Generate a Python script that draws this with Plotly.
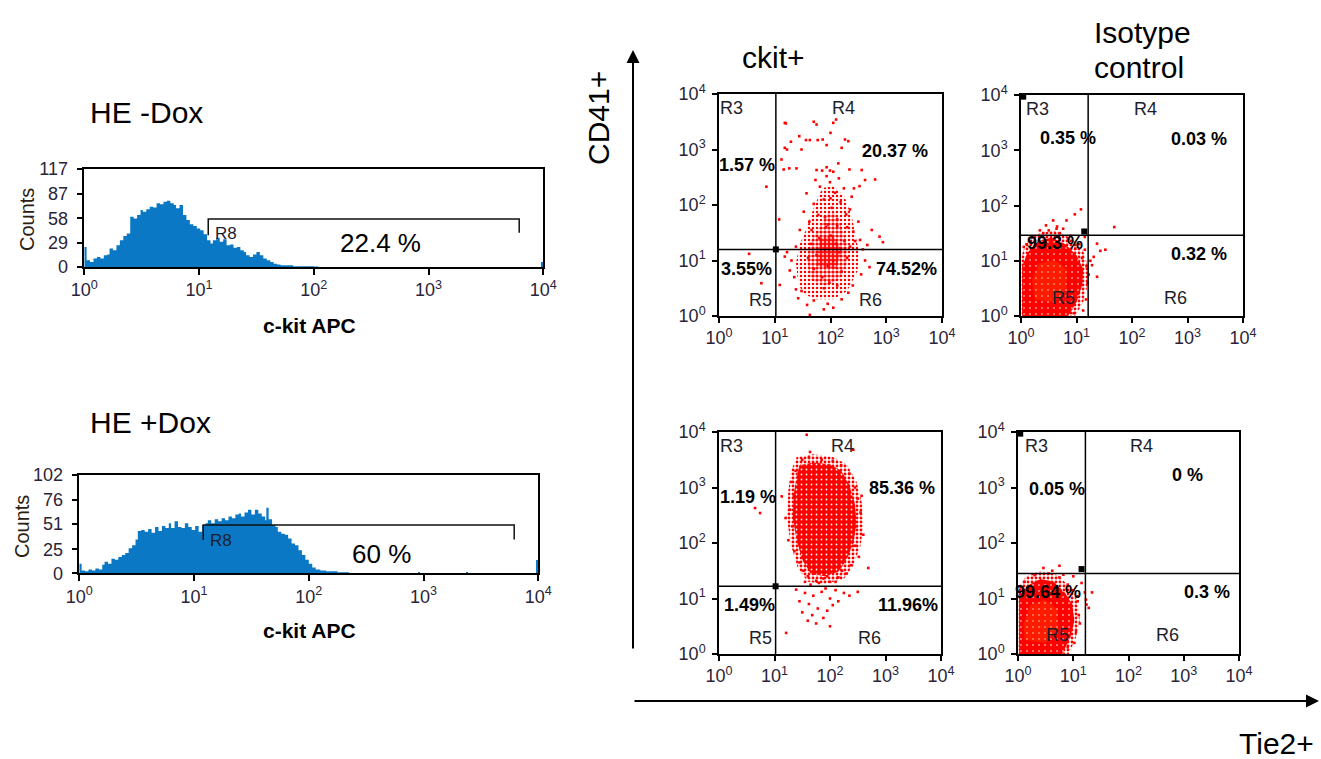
import plotly.graph_objects as go

W, H = 1321, 759
FONT = "Liberation Sans, Arial, sans-serif"

# ---------------- histogram data (x in log10 decades of c-kit APC, y = counts) ----------------
h1_x = [0.00,0.02,0.05,0.08,0.11,0.14,0.17,0.20,0.22,0.25,0.28,0.31,0.34,0.37,0.40,0.43,0.46,0.49,0.51,0.54,
        0.57,0.60,0.63,0.66,0.69,0.72,0.75,0.78,0.80,0.83,0.86,0.89,0.92,0.95,0.98,1.01,1.04,1.07,1.10,1.12,
        1.15,1.18,1.21,1.24,1.27,1.30,1.33,1.36,1.39,1.41,1.44,1.47,1.50,1.53,1.56,1.59,1.62,1.65,1.68,1.71,
        1.76,1.82,1.88,1.94,2.00,2.04]
h1_y = [24,8,6,10,12,10,14,15,22,20,26,32,37,40,60,58,62,68,66,69,
        72,71,76,75,78,79,76,74,70,74,62,56,51,49,46,44,39,32,28,32,
        35,30,33,26,27,23,24,20,18,14,12,15,18,14,10,8,6,4,3,2,
        2,1,1,1,0.5,0]
h1_extra_x = [3.99]
h1_extra_y = [6]

h2_x = [0.00,0.02,0.05,0.08,0.11,0.14,0.17,0.20,0.22,0.25,0.28,0.31,0.34,0.37,0.40,0.43,0.46,0.49,0.51,0.54,
        0.57,0.60,0.63,0.66,0.69,0.72,0.75,0.78,0.80,0.83,0.86,0.89,0.92,0.95,0.98,1.01,1.04,1.07,1.10,1.12,
        1.15,1.18,1.21,1.24,1.27,1.30,1.33,1.36,1.39,1.41,1.44,1.47,1.50,1.53,1.56,1.59,1.62,1.63,1.65,1.68,
        1.71,1.73,1.76,1.79,1.82,1.85,1.88,1.91,1.94,1.97,2.00,2.03,2.06,2.10,2.15,2.20,2.25,2.30,2.35]
h2_y = [10,3,2,4,3,5,4,9,12,10,15,14,17,19,21,26,29,35,44,45,
        43,46,42,48,44,49,47,52,47,54,48,47,52,48,45,49,43,50,52,55,
        52,56,54,57,55,59,57,61,62,59,63,66,61,66,62,59,55,68,56,50,
        48,43,41,40,36,31,29,24,19,14,10,6,4,3,2,2,1,1,0]
h2_extra_x = [2.96, 3.38, 3.99]
h2_extra_y = [1, 1, 14]

# R8 gate brackets (decades, counts)
h1_gate_x = [1.08, 1.08, 3.79, 3.79]
h1_gate_y = [38, 57.3, 57.3, 41]
h2_gate_x = [1.08, 1.08, 3.79, 3.79]
h2_gate_y = [34.5, 50.1, 50.1, 35]

# ---------------- dot plots (log10 Tie2, log10 CD41) ----------------
tl_events = [
    (1.18,3.48),(1.20,3.47),(1.70,3.50),(1.75,3.45),(2.10,3.54),(2.05,3.48),(2.00,3.30),(1.44,3.24),(1.56,3.17),
    (1.63,3.17),(1.77,3.17),(1.86,3.18),(1.29,3.14),(1.93,3.08),(2.26,3.18),(2.32,3.15),(2.20,3.03),(1.18,3.03),
    (1.22,3.00),(1.48,3.00),(2.60,3.05),(1.12,2.82),(1.16,2.64),(1.26,2.66),(1.39,2.66),(1.75,2.63),(1.93,2.68),
    (1.99,2.62),(2.34,2.64),(2.56,2.63),(2.80,2.46),(2.62,2.45),(2.14,2.75),(0.85,2.33),(2.52,2.34),(2.42,2.30),
    (1.08,1.74),(2.74,1.55),(2.88,1.43),(2.94,1.33),(2.53,1.37),(0.54,1.12),(0.76,0.59),(1.09,0.56),(1.63,0.02),
    (1.88,0.12),(1.38,0.48),(1.18,1.07),
    (1.62,1.70),(1.78,1.82),(1.95,1.65),(2.12,1.74),(2.30,1.60),(2.41,1.52),(1.70,2.02),(1.88,2.10),(2.02,1.95),
    (2.18,2.05),(2.35,1.92),(1.57,2.21),(1.81,2.33),(1.99,2.41),(2.08,2.22),(2.24,2.30),(1.93,2.52),(2.15,2.48),
    (1.73,2.45),(2.05,2.60),(1.85,2.62),(2.28,1.83),(1.66,1.55),(2.50,1.70),(2.38,2.15),(1.52,1.88),(2.44,1.35),
    (2.58,1.20),(2.62,1.00),(2.55,0.75),(2.40,0.55),(2.20,0.30),(1.95,0.22),(1.70,0.28),(1.48,0.45),(1.35,0.70),
    (1.30,1.00),(1.38,1.25),(1.45,1.55),(1.27,0.82),(1.22,1.15),(2.70,0.88),(2.66,1.28),(1.58,0.20),(2.05,0.15),
    (2.32,0.42),(1.42,0.32),(2.12,1.62),(1.90,1.78),(2.00,2.12),
    (1.75,1.10),(1.90,1.20),(2.05,1.00),(2.10,1.30),(1.95,0.90),(1.85,0.70),(2.20,0.80),(2.15,1.15),(1.70,0.85),
    (2.30,1.05),(1.80,1.40),(2.00,1.45),(1.60,1.05),(2.25,1.35),(1.98,0.60),(2.12,0.55),(1.88,0.50),(1.65,1.30),
    (2.35,1.25),(1.92,1.60)]
tl_cloud = [
    [(1.50,0.40),(1.75,0.30),(2.05,0.30),(2.30,0.45),(2.48,0.80),(2.52,1.10),(2.45,1.45),(2.38,1.80),(2.25,2.15),
     (2.05,2.35),(1.85,2.30),(1.70,1.95),(1.58,1.60),(1.45,1.30),(1.38,0.95),(1.42,0.62)],
    [(1.65,0.65),(1.90,0.55),(2.15,0.65),(2.30,0.95),(2.30,1.30),(2.20,1.60),(2.10,1.85),(1.95,1.85),(1.80,1.60),
     (1.65,1.35),(1.58,1.00)],
    [(1.75,0.90),(2.10,0.85),(2.20,1.20),(2.05,1.45),(1.80,1.40)]]

bl_events = [
    (1.58,3.95),(1.64,3.64),(2.42,3.68),(1.50,3.50),(1.62,3.55),(1.85,3.50),(2.05,3.48),(2.20,3.40),(1.38,3.30),
    (1.30,3.10),(2.35,3.25),(2.45,3.00),(2.50,2.80),(2.57,2.85),(2.55,2.55),(2.48,2.30),(2.60,2.15),(2.45,1.95),
    (2.52,1.75),(2.69,1.55),(2.38,1.60),(2.30,1.45),(1.35,2.85),(1.28,2.60),(1.32,2.30),(1.25,2.05),(1.36,1.85),
    (1.45,1.65),(1.13,2.84),(0.65,2.63),(0.74,2.54),(1.20,2.45),(1.52,1.50),(1.60,1.40),(2.15,1.38),(2.00,1.30),
    (1.75,1.32),(1.39,1.16),(1.55,1.10),(1.70,1.05),(1.85,1.12),(2.00,1.00),(2.10,1.15),(1.62,0.90),(1.78,0.82),
    (1.95,0.78),(2.05,0.88),(1.68,0.70),(1.88,0.65),(2.00,0.50),(1.75,0.55),(1.60,0.60),(2.15,0.95),(2.25,1.10),
    (1.45,0.95),(2.35,1.05),(2.50,1.12),(1.21,0.38),(1.92,1.18),(1.50,0.75),(1.65,1.25),(1.80,1.28),(1.95,1.40),
    (2.10,1.30),(1.72,1.45),(1.88,1.36),(2.22,1.50),(1.55,1.30)]
bl_halo = [(1.40,3.55),(1.70,3.60),(2.05,3.55),(2.30,3.42),(2.48,3.10),(2.58,2.70),(2.60,2.30),(2.55,1.95),
           (2.42,1.60),(2.25,1.35),(1.90,1.26),(1.60,1.30),(1.42,1.55),(1.30,1.95),(1.22,2.45),(1.25,2.95),(1.30,3.30)]
bl_core = [(1.45,3.40),(1.70,3.45),(2.00,3.42),(2.20,3.30),(2.35,3.05),(2.45,2.70),(2.48,2.35),(2.42,2.00),
           (2.30,1.70),(2.15,1.48),(1.90,1.40),(1.65,1.45),(1.50,1.70),(1.40,2.05),(1.33,2.45),(1.35,2.90),(1.40,3.20)]

tr_events = [
    (0.58,1.73),(0.76,1.58),(0.97,1.84),(1.08,1.93),(1.68,1.61),(1.37,1.31),(1.43,1.18),(1.52,1.20),(1.31,1.07),
    (1.37,0.71),(1.28,0.92),(0.82,1.73),(0.64,1.58),(0.34,1.55),(0.45,1.64),(1.15,1.43),(1.20,0.60),(1.18,0.90),
    (1.25,1.00),(1.15,1.20),(1.05,1.30),(0.90,1.45),(0.70,1.50),(0.40,1.50),(0.20,1.42),(0.10,1.30),(1.17,0.30),
    (1.12,0.10),(0.95,0.05),(1.22,0.75),(0.05,1.25),(0.65,1.62),(0.50,1.55),(0.85,1.40),(1.10,1.05),(0.98,1.22)]
tr_halo = [(0.00,0.00),(0.98,0.00),(1.12,0.25),(1.20,0.55),(1.22,0.85),(1.12,1.18),(0.92,1.40),(0.60,1.55),
           (0.28,1.48),(0.08,1.30),(0.00,1.05)]
tr_core = [(0.02,0.00),(0.85,0.00),(1.00,0.25),(1.10,0.55),(1.12,0.85),(1.00,1.10),(0.80,1.30),(0.55,1.42),
           (0.30,1.35),(0.12,1.15),(0.02,0.90)]
tr_dense = [(0.25,0.30),(0.60,0.25),(0.82,0.50),(0.82,0.85),(0.60,1.02),(0.32,0.95),(0.20,0.65)]

br_events = [
    (0.46,1.55),(0.75,1.59),(0.82,1.43),(1.21,1.11),(1.23,0.98),(1.24,0.89),(1.28,0.83),(1.34,1.11),(1.08,1.04),
    (1.15,1.28),(1.00,1.40),(1.05,0.40),(1.10,0.70),(1.00,1.15),(0.90,1.25),(0.75,1.38),(0.55,1.45),(0.30,1.42),
    (0.12,1.30),(0.05,1.20),(0.90,0.12),(1.08,0.95),(0.62,1.50),(1.02,0.20),(1.12,0.55)]
br_halo = [(0.00,0.00),(0.92,0.00),(1.05,0.30),(1.12,0.60),(1.08,0.95),(0.95,1.20),(0.72,1.42),(0.42,1.50),
           (0.15,1.40),(0.00,1.20)]
br_core = [(0.02,0.00),(0.80,0.00),(0.95,0.30),(1.02,0.60),(0.98,0.90),(0.85,1.10),(0.65,1.30),(0.40,1.35),
           (0.20,1.25),(0.02,1.05)]
br_dense = [(0.12,0.25),(0.50,0.20),(0.72,0.45),(0.72,0.80),(0.48,0.98),(0.22,0.88),(0.10,0.55)]

# quadrant gates: (vertical x, horizontal y) and handle positions
gates = {"tl": (1.02, 1.20), "tr": (1.21, 1.46), "bl": (1.02, 1.22), "br": (1.22, 1.45)}
handles = {"tl": [(1.02, 1.20)], "tr": [(1.14, 1.53), (0.04, 3.97)],
           "bl": [(1.02, 1.22)], "br": [(1.15, 1.53), (0.04, 3.97)]}

region_labels = {
    "tl": [("R3", 0.23, 3.74), ("R4", 2.23, 3.74), ("R5", 0.74, 0.29), ("R6", 2.72, 0.29)],
    "tr": [("R3", 0.30, 3.74), ("R4", 2.24, 3.74), ("R5", 0.76, 0.32), ("R6", 2.78, 0.32)],
    "bl": [("R3", 0.23, 3.75), ("R4", 2.23, 3.75), ("R5", 0.74, 0.29), ("R6", 2.72, 0.29)],
    "br": [("R3", 0.34, 3.75), ("R4", 2.24, 3.75), ("R5", 0.72, 0.34), ("R6", 2.70, 0.34)],
}
pct_labels = {
    "tl": [("1.57 %", 0.51, 2.72), ("20.37 %", 3.16, 2.97), ("3.55%", 0.50, 0.84), ("74.52%", 3.37, 0.84)],
    "tr": [("0.35 %", 0.85, 3.22), ("0.03 %", 3.20, 3.20), ("99.3 %", 0.61, 1.32), ("0.32 %", 3.20, 1.12)],
    "bl": [("1.19 %", 0.53, 2.83), ("85.36 %", 3.29, 2.99), ("1.49%", 0.55, 0.89), ("11.96%", 3.40, 0.89)],
    "br": [("0.05 %", 0.70, 2.98), ("0 %", 3.06, 3.22), ("99.64 %", 0.55, 1.12), ("0.3 %", 3.42, 1.12)],
}

decade_text = ["10<sup>0</sup>", "10<sup>1</sup>", "10<sup>2</sup>", "10<sup>3</sup>", "10<sup>4</sup>"]

# ---------------- layout boxes (pixels) ----------------
def xdom(a, b):
    return [a / W, b / W]

def ydom(top, bottom):
    return [1 - bottom / H, 1 - top / H]

fig = go.Figure()
layout = dict(template="none", width=W, height=H, margin=dict(l=0, r=0, t=0, b=0, pad=0),
              autosize=False, paper_bgcolor="white",
              plot_bgcolor="white", showlegend=False, font=dict(family=FONT, color="black"))
annotations = []
shapes = []

BLUE = "#0a78c4"
TICKC = "#2b2438"

def axis_common(dom, rng, tickvals, ticktext, size, ticklen, anchor, standoff=0):
    return dict(domain=dom, range=rng, tickvals=tickvals, ticktext=ticktext, ticks="outside",
                ticklen=ticklen, tickwidth=1.5, tickcolor="black", showline=True, mirror=True,
                linecolor="black", linewidth=1.5, showgrid=False, zeroline=False, fixedrange=True,
                automargin=False, ticklabelstandoff=standoff,
                tickfont=dict(family=FONT, size=size, color=TICKC), anchor=anchor)

def paper_text(text, px, py, size, angle=0, xanchor="center", color="black"):
    return dict(x=px / W, y=1 - py / H, xref="paper", yref="paper", text=text, showarrow=False,
                xanchor=xanchor, yanchor="middle", textangle=angle, font=dict(size=size, color=color))

# ---------------- histograms ----------------
hists = [
    dict(ax="", x=h1_x, y=h1_y, ex=h1_extra_x, ey=h1_extra_y, gx=h1_gate_x, gy=h1_gate_y, ymax=117,
         yt=[0, 29, 58, 87, 117], box=(84.3, 543.3, 169, 267), pct=("22.4 %", 2.58, 29), r8=(1.12, 40),
         title=("HE -Dox", 88, 113), counts=(27, 220), xlabel=(309, 325)),
    dict(ax="2", x=h2_x, y=h2_y, ex=h2_extra_x, ey=h2_extra_y, gx=h2_gate_x, gy=h2_gate_y, ymax=102,
         yt=[0, 25, 51, 76, 102], box=(79.3, 538.3, 475, 573.3), pct=("60 %", 2.63, 20), r8=(1.12, 34.5),
         title=("HE +Dox", 88, 422), counts=(22, 527), xlabel=(309, 630)),
]
for h in hists:
    a = h["ax"]
    xr, yr = "x" + a, "y" + a
    fig.add_trace(go.Scatter(x=h["x"], y=h["y"], mode="lines", line=dict(width=0, shape="hv", color=BLUE),
                             fill="tozeroy", fillcolor=BLUE, xaxis=xr, yaxis=yr, hoverinfo="skip"))
    fig.add_trace(go.Bar(x=h["ex"], y=h["ey"], width=0.02, offset=-0.01, marker=dict(color=BLUE, line=dict(width=0)),
                         xaxis=xr, yaxis=yr, hoverinfo="skip"))
    fig.add_trace(go.Scatter(x=h["gx"], y=h["gy"], mode="lines", line=dict(color="#111", width=1.5),
                             xaxis=xr, yaxis=yr, hoverinfo="skip"))
    x0, x1, t, b = h["box"]
    layout["xaxis" + a] = axis_common(xdom(x0, x1), [0, 4], [0, 1, 2, 3, 4], decade_text, 18, 6, yr)
    layout["yaxis" + a] = axis_common(ydom(t, b), [0, h["ymax"]], h["yt"], [str(v) for v in h["yt"]], 18, 6, xr,
                                      standoff=5)
    annotations.append(dict(x=h["pct"][1], y=h["pct"][2], xref=xr, yref=yr, text=h["pct"][0], showarrow=False,
                            xanchor="center", yanchor="middle", font=dict(size=26, color="black")))
    annotations.append(dict(x=h["r8"][0], y=h["r8"][1], xref=xr, yref=yr, text="R8", showarrow=False,
                            xanchor="left", yanchor="middle", font=dict(size=17, color="#1a2030")))
    tt, tx, ty = h["title"]
    annotations.append(paper_text(tt, tx, ty, 30, xanchor="left"))
    annotations.append(paper_text("Counts", h["counts"][0], h["counts"][1], 20, angle=-90, color="#2a2010"))
    annotations.append(paper_text("<b>c-kit APC</b>", h["xlabel"][0], h["xlabel"][1], 21))

# ---------------- dot plots ----------------
panels = [
    ("tl", "3", (719, 942, 94, 316)),
    ("tr", "4", (1021, 1243, 95, 316)),
    ("bl", "5", (719, 941, 432, 654)),
    ("br", "6", (1018, 1239, 432, 654)),
]
RED = "#ff0000"

def poly_trace(pts, xr, yr, **kw):
    xs = [p[0] for p in pts]
    ys = [p[1] for p in pts]
    return go.Scatter(x=xs, y=ys, mode="lines", line=dict(width=0), fill="toself", xaxis=xr, yaxis=yr,
                      hoverinfo="skip", **kw)

event_sets = {"tl": tl_events, "tr": tr_events, "bl": bl_events, "br": br_events}

for key, a, box in panels:
    xr, yr = "x" + a, "y" + a
    if key == "tl":
        for pts, sol in zip(tl_cloud, [0.3, 0.5, 0.7]):
            fig.add_trace(poly_trace(pts, xr, yr, fillcolor="rgba(0,0,0,0)",
                                     fillpattern=dict(shape=".", fgcolor=RED, bgcolor="rgba(0,0,0,0)",
                                                      size=4, solidity=sol)))
    elif key == "bl":
        fig.add_trace(poly_trace(bl_halo, xr, yr, fillcolor="rgba(0,0,0,0)",
                                 fillpattern=dict(shape=".", fgcolor=RED, bgcolor="rgba(0,0,0,0)",
                                                  size=4, solidity=0.4)))
        fig.add_trace(poly_trace(bl_core, xr, yr, fillcolor=RED,
                                 fillpattern=dict(shape=".", fgcolor="white", bgcolor=RED, size=5, solidity=0.1)))
    else:
        halo, core, dense = (tr_halo, tr_core, tr_dense) if key == "tr" else (br_halo, br_core, br_dense)
        fig.add_trace(poly_trace(halo, xr, yr, fillcolor="rgba(0,0,0,0)",
                                 fillpattern=dict(shape=".", fgcolor=RED, bgcolor="rgba(0,0,0,0)",
                                                  size=4, solidity=0.4)))
        fig.add_trace(poly_trace(core, xr, yr, fillcolor=RED,
                                 fillpattern=dict(shape=".", fgcolor="white", bgcolor=RED, size=6, solidity=0.06)))
        fig.add_trace(poly_trace(dense, xr, yr, fillcolor="rgba(255,90,0,0.3)"))
    ev = event_sets[key]
    fig.add_trace(go.Scatter(x=[p[0] for p in ev], y=[p[1] for p in ev], mode="markers",
                             marker=dict(symbol="square", size=2.6, color=RED, line=dict(width=0)),
                             xaxis=xr, yaxis=yr, hoverinfo="skip"))
    vx, hy = gates[key]
    shapes.append(dict(type="line", xref=xr, yref=yr, x0=vx, x1=vx, y0=0, y1=4, line=dict(color="black", width=1.5)))
    shapes.append(dict(type="line", xref=xr, yref=yr, x0=0, x1=4, y0=hy, y1=hy, line=dict(color="black", width=1.5)))
    hp = handles[key]
    fig.add_trace(go.Scatter(x=[p[0] for p in hp], y=[p[1] for p in hp], mode="markers",
                             marker=dict(symbol="square", size=6, color="black"),
                             xaxis=xr, yaxis=yr, hoverinfo="skip", cliponaxis=False))
    x0, x1, t, b = box
    layout["xaxis" + a] = axis_common(xdom(x0, x1), [0, 4], [0, 1, 2, 3, 4], decade_text, 18, 5, yr)
    layout["yaxis" + a] = axis_common(ydom(t, b), [0, 4], [0, 1, 2, 3, 4], decade_text, 18, 5, xr, standoff=3)
    for txt, lx, ly in region_labels[key]:
        annotations.append(dict(x=lx, y=ly, xref=xr, yref=yr, text=txt, showarrow=False,
                                xanchor="center", yanchor="middle", font=dict(size=18, color="#1e1e2a")))
    for txt, lx, ly in pct_labels[key]:
        annotations.append(dict(x=lx, y=ly, xref=xr, yref=yr, text="<b>" + txt + "</b>", showarrow=False,
                                xanchor="center", yanchor="middle", font=dict(size=18, color="black")))

# ---------------- headings and big axes arrows ----------------
annotations += [
    paper_text("ckit+", 773, 57, 30),
    paper_text("Isotype", 1092, 32, 30, xanchor="left"),
    paper_text("control", 1092, 68, 30, xanchor="left"),
    paper_text("CD41+", 598, 118, 30, angle=-90),
    paper_text("Tie2+", 1276, 743, 30),
    dict(x=633 / W, y=1 - 50 / H, xref="paper", yref="paper", text="", showarrow=True, ax=0, ay=600,
         arrowhead=2, arrowsize=1.3, arrowwidth=2, arrowcolor="black", standoff=0),
    dict(x=1319 / W, y=1 - 701 / H, xref="paper", yref="paper", text="", showarrow=True, ax=-686, ay=0,
         arrowhead=2, arrowsize=1.3, arrowwidth=2, arrowcolor="black", standoff=0),
]

layout["annotations"] = annotations
layout["shapes"] = shapes
layout["bargap"] = 0
fig.update_layout(**layout)

fig.write_html("out.html")
